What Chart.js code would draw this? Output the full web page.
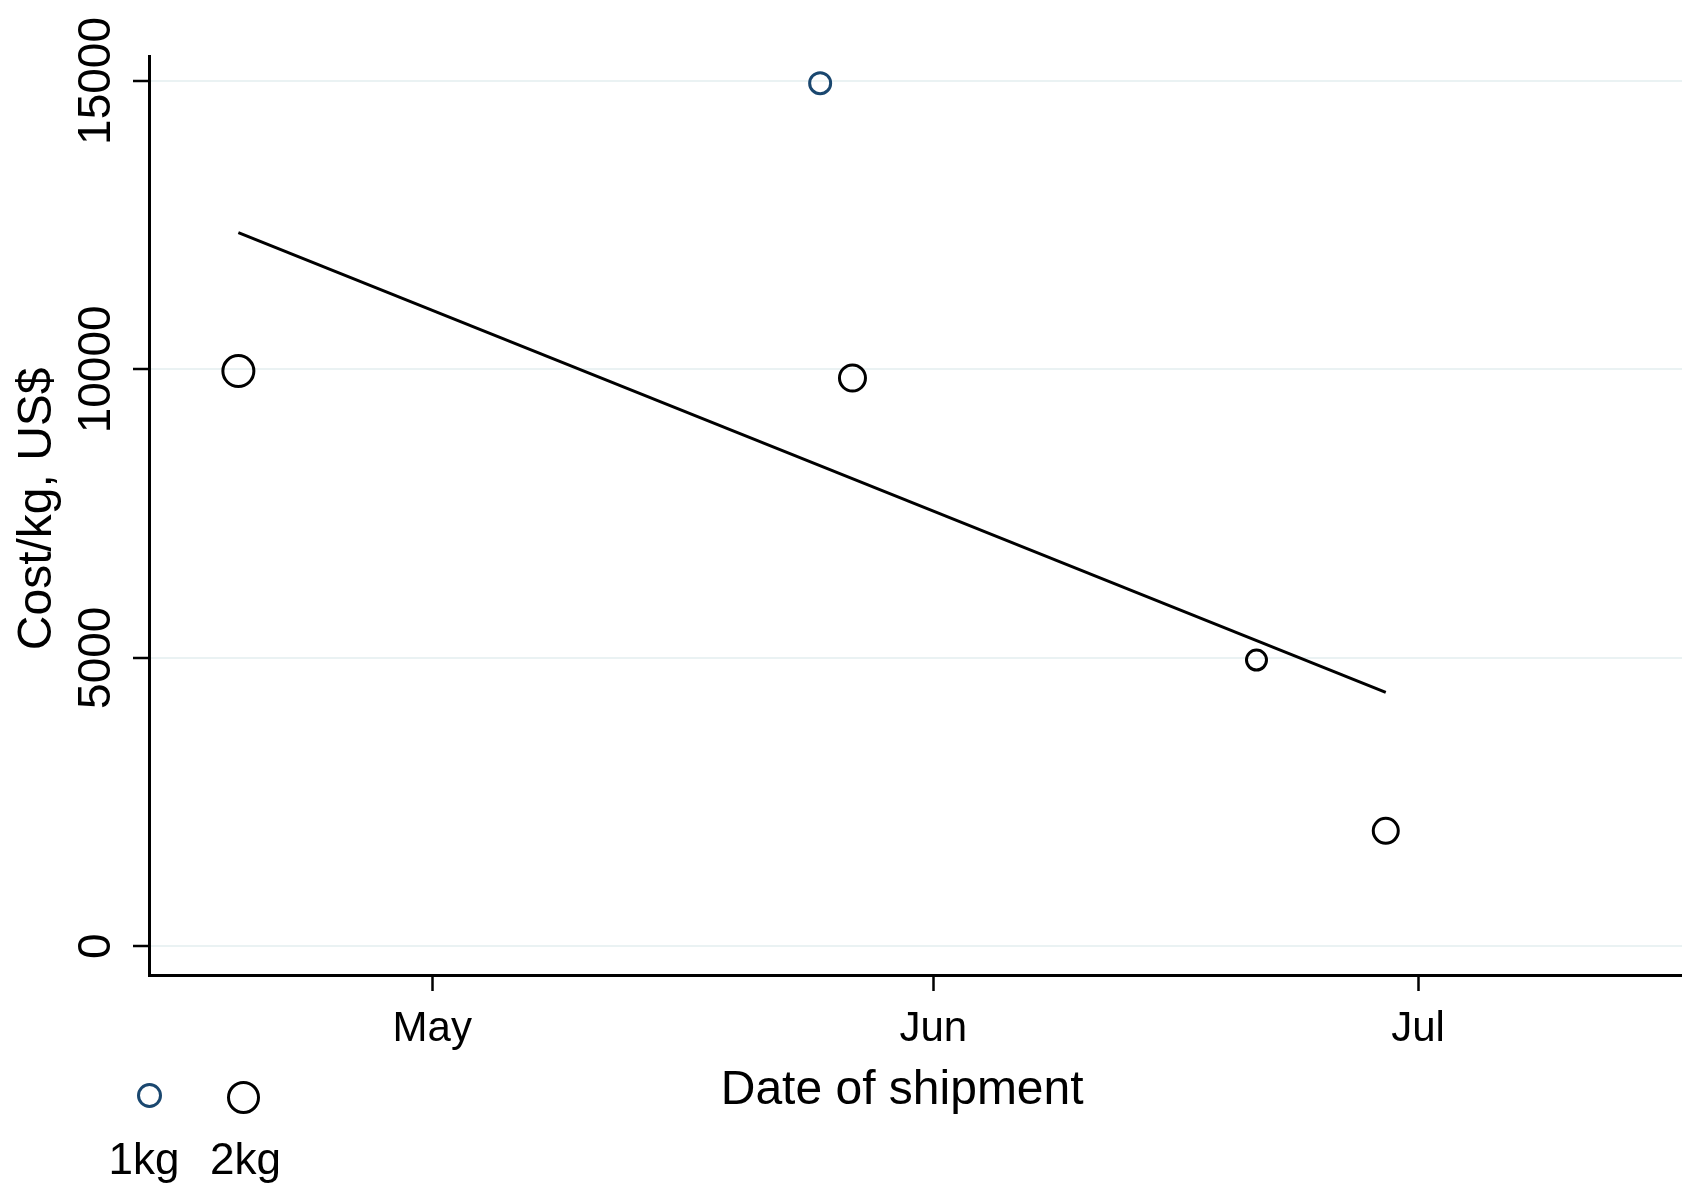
<!DOCTYPE html>
<html>
<head>
<meta charset="utf-8">
<script src="https://cdn.jsdelivr.net/npm/chart.js@4.4.1/dist/chart.umd.min.js"></script>
<style>
  body { margin: 0; background: #fff; }
  #wrap { position: relative; width: 1682px; height: 1184px; }
  .key { position: absolute; box-sizing: border-box; border-radius: 50%; border: 3px solid #000; }
  .keytxt { position: absolute; font: 44px "Liberation Sans", Arial, sans-serif; line-height: 44px; color: #000; transform: translateX(-50%); white-space: nowrap; }
</style>
</head>
<body>
<div id="wrap">
  <canvas id="chart" width="1682" height="1184"></canvas>
  <div class="key" style="left:136.5px;top:1083px;width:25px;height:25px;border-color:#1a476f"></div>
  <div class="key" style="left:226.5px;top:1080.5px;width:33px;height:33px"></div>
  <div class="keytxt" style="left:144px;top:1137px">1kg</div>
  <div class="keytxt" style="left:245.5px;top:1137px">2kg</div>
</div>
<script>
// values
var dates1kg = ['2020-05-25'];
var cost1kg = [14960];
var dates2kg = ['2020-04-19', '2020-05-27', '2020-06-21', '2020-06-29'];
var cost2kg = [9970, 9850, 4960, 2000];
var size2kg = [15.5, 13, 10, 12.5];
var fitDates = ['2020-04-19', '2020-06-29'];
var fitCost = [12370, 4400];
var xTickDates = ['2020-05-01', '2020-06-01', '2020-07-01'];
var xTickLabels = ['May', 'Jun', 'Jul'];
var yTicks = [0, 5000, 10000, 15000];

var day = function(s){
  var p = s.split('-');
  return Date.UTC(+p[0], +p[1] - 1, +p[2]) / 86400000;
};
var pts = function(d, v){
  var out = [];
  for (var i = 0; i < d.length; i++) out.push({x: day(d[i]), y: v[i]});
  return out;
};

var may1 = day('2020-05-01');
var xTickDays = xTickDates.map(day);

Chart.defaults.font.family = '"Liberation Sans", Arial, Helvetica, sans-serif';
Chart.defaults.color = '#000';

var ctx = document.getElementById('chart');
var chart = new Chart(ctx, {
  type: 'scatter',
  data: {
    datasets: [
      {
        label: 'fit',
        type: 'line',
        data: pts(fitDates, fitCost),
        borderColor: '#000',
        borderWidth: 3,
        pointRadius: 0,
        fill: false
      },
      {
        label: '1kg',
        data: pts(dates1kg, cost1kg),
        borderColor: '#1a476f',
        backgroundColor: 'transparent',
        borderWidth: 3,
        pointRadius: 10.5,
        pointHoverRadius: 10.5
      },
      {
        label: '2kg',
        data: pts(dates2kg, cost2kg),
        borderColor: '#000',
        backgroundColor: 'transparent',
        borderWidth: 3,
        pointRadius: size2kg,
        pointHoverRadius: size2kg
      }
    ]
  },
  options: {
    responsive: false,
    animation: false,
    layout: { autoPadding: false, padding: { top: 56, left: 0, right: 0, bottom: 0 } },
    plugins: { legend: { display: false }, tooltip: { enabled: false } },
    scales: {
      x: {
        type: 'linear',
        min: may1 - 17.53,
        max: may1 + 77.33,
        afterBuildTicks: function(s){ s.ticks = xTickDays.map(function(v){ return {value: v}; }); },
        afterFit: function(s){ s.height = 209; },
        border: { color: '#000', width: 3 },
        grid: { drawOnChartArea: false, tickLength: 16, tickColor: '#000', tickWidth: 2.5 },
        ticks: {
          autoSkip: false,
          maxRotation: 0,
          padding: 13,
          font: { size: 42 },
          callback: function(v){ var i = xTickDays.indexOf(v); return i < 0 ? '' : xTickLabels[i]; }
        },
        title: { display: true, text: 'Date of shipment  ', font: { size: 48 }, padding: { top: 0, bottom: 64 } }
      },
      y: {
        min: -499,
        max: 15432,
        afterBuildTicks: function(s){ s.ticks = yTicks.map(function(v){ return {value: v}; }); },
        afterFit: function(s){ s.width = 149; },
        border: { color: '#000', width: 3 },
        grid: { color: '#eaf2f3', lineWidth: 2, tickLength: 16, tickColor: '#000', tickWidth: 2.5 },
        ticks: {
          autoSkip: false,
          minRotation: 90,
          maxRotation: 90,
          crossAlign: 'center',
          padding: -28.5,
          font: { size: 46 },
          callback: function(v){ return String(v); }
        },
        title: { display: true, text: ' Cost/kg, US$', font: { size: 48 }, padding: { top: 9, bottom: 0 } }
      }
    }
  }
});
</script>
</body>
</html>
